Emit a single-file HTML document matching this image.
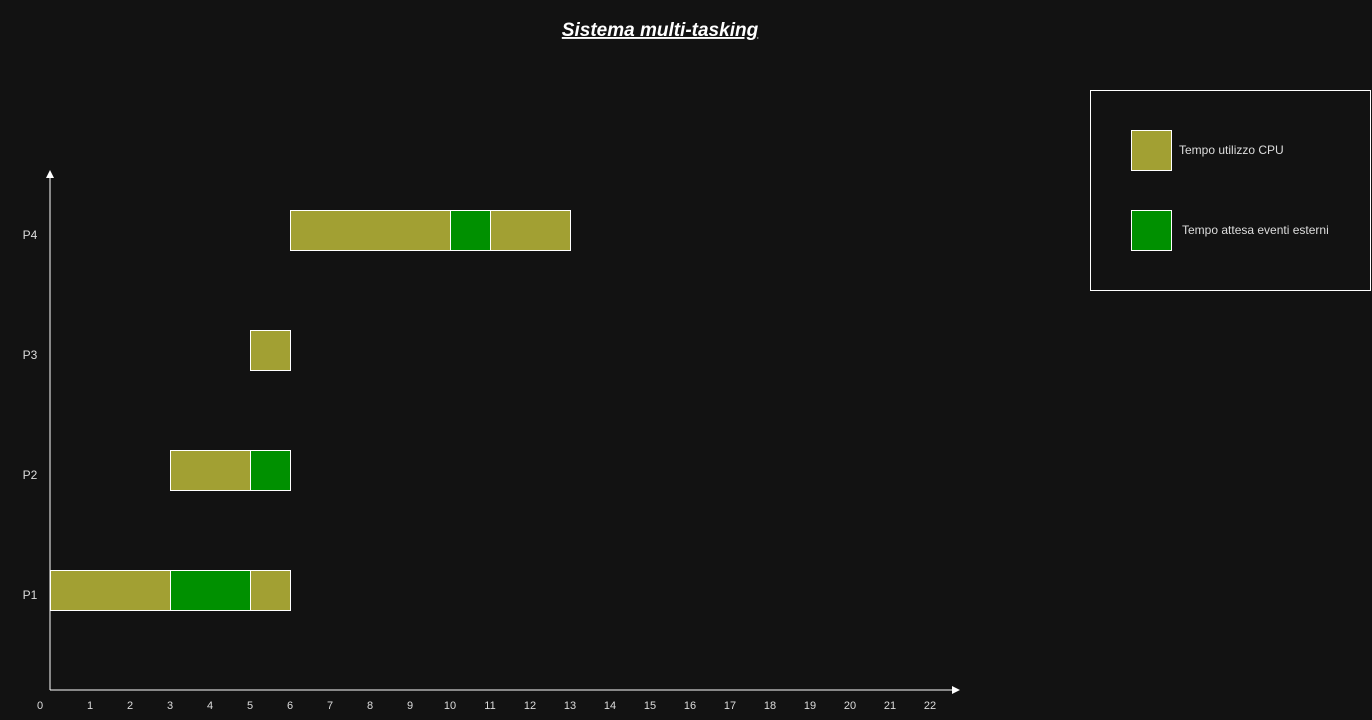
<!DOCTYPE html>
<html><head><meta charset="utf-8"><style>
html,body{margin:0;padding:0;background:#121212;}
svg{display:block;font-family:"Liberation Sans",sans-serif;}
</style></head><body>
<svg width="1372" height="720" viewBox="0 0 1372 720">
<text x="660" y="36" text-anchor="middle" fill="#fff" font-size="19" font-weight="bold" font-style="italic" text-decoration="underline">Sistema multi-tasking</text>
<line x1="50" y1="690" x2="50" y2="176" stroke="#fff" stroke-width="1"/>
<path d="M50,170 L46,178 L54,178 Z" fill="#fff"/>
<line x1="50" y1="690" x2="953" y2="690" stroke="#fff" stroke-width="1"/>
<path d="M960,690 L952,686 L952,694 Z" fill="#fff"/>
<g id="ticks"></g>
<g id="rows"></g>
<g id="bars"></g>
<rect x="1090.5" y="90.5" width="280" height="200" fill="none" stroke="#fff"/>
<rect x="1131.5" y="130.5" width="40" height="40" fill="#A2A033" stroke="#fff"/>
<text x="1179" y="154" fill="#ddd" font-size="12">Tempo utilizzo CPU</text>
<rect x="1131.5" y="210.5" width="40" height="40" fill="#009000" stroke="#fff"/>
<text x="1182" y="234" fill="#ddd" font-size="12">Tempo attesa eventi esterni</text>
</svg>
<script>
const processes = ["P1","P2","P3","P4"];
const segStart = [0,3,5, 3,5, 5, 6,10,11];
const segEnd   = [3,5,6, 5,6, 6, 10,11,13];
const segProc  = ["P1","P1","P1","P2","P2","P3","P4","P4","P4"];
const segType  = ["cpu","wait","cpu","cpu","wait","cpu","cpu","wait","cpu"];
const tickLabels = ["0","1","2","3","4","5","6","7","8","9","10","11","12","13","14","15","16","17","18","19","20","21","22"];
const NS="http://www.w3.org/2000/svg";
function xs(v){return 50+40*v;}
function yc(p){return 590-120*processes.indexOf(p);}
const colors={cpu:"#A2A033",wait:"#009000"};
const tg=document.getElementById("ticks");
tickLabels.forEach((t,i)=>{
  const e=document.createElementNS(NS,"text");
  e.setAttribute("x", i===0?40:xs(i));
  e.setAttribute("y",709);
  e.setAttribute("text-anchor","middle");
  e.setAttribute("fill","#ddd");
  e.setAttribute("font-size","11");
  e.textContent=t;
  
  
  tg.appendChild(e);
});
const rg=document.getElementById("rows");
processes.forEach(p=>{
  const e=document.createElementNS(NS,"text");
  e.setAttribute("x",30);
  e.setAttribute("y",yc(p)+9);
  e.setAttribute("text-anchor","middle");
  e.setAttribute("fill","#ddd");
  e.setAttribute("font-size","12");
  e.textContent=p;
  
  
  rg.appendChild(e);
});
const bg=document.getElementById("bars");
segStart.forEach((s,i)=>{
  const r=document.createElementNS(NS,"rect");
  r.setAttribute("x",xs(s)+0.5);
  r.setAttribute("y",yc(segProc[i])-20+0.5);
  r.setAttribute("width",xs(segEnd[i])-xs(s));
  r.setAttribute("height",40);
  r.setAttribute("fill",colors[segType[i]]);
  r.setAttribute("stroke","#fff");
  
  
  bg.appendChild(r);
});
</script>
</body></html>
